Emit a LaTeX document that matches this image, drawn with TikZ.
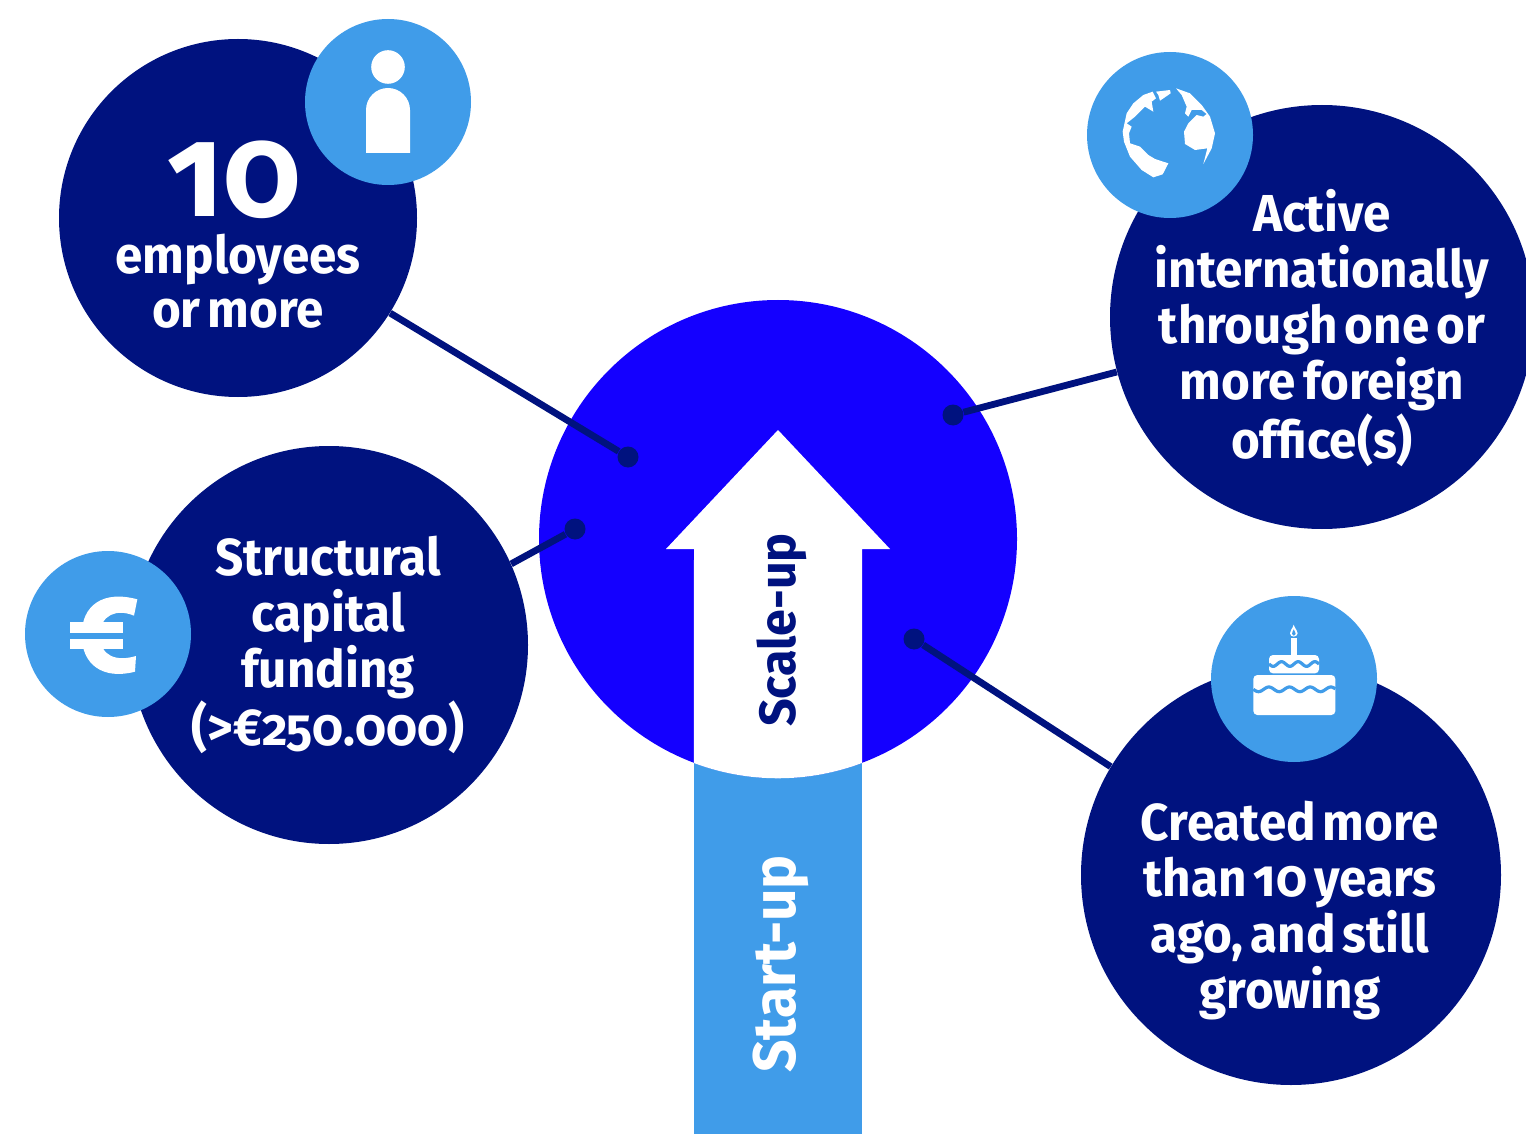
\documentclass[tikz,border=0pt]{standalone}
\usepackage{fontspec}
\setmainfont{Fira Sans}[Numbers=OldStyle,FakeStretch=0.95,WordSpace=0.6]
\usetikzlibrary{positioning}
\definecolor{navy}{HTML}{00127F}
\definecolor{vivid}{HTML}{1400FF}
\definecolor{sky}{HTML}{409CE9}
\tikzset{
  blob/.style={circle,inner sep=0pt,fill=navy},
  badge/.style={circle,inner sep=0pt,fill=sky,minimum size=83pt},
  pin/.style={circle,inner sep=0pt,fill=navy,minimum size=10.5pt},
  link/.style={navy,line width=3.4pt},
  blurb/.style={white,align=center,inner sep=0pt,font=\fontsize{26}{28}\bfseries\selectfont},
  zoomed/.style={x=0.16667pt,y=-0.16667pt},
}
\begin{document}
\begin{tikzpicture}[x=0.5pt,y=-0.5pt]
\useasboundingbox (0,0) rectangle (1526,1134);
%%
\fill [sky] (694,620) rectangle (862,1134);
\node (node_main) at (778,539) [circle,inner sep=0pt,fill=vivid,minimum size=239pt] {};
\fill [white] (778,430) -- (890,549) -- (862,549) -- (862,763)
  arc [start angle=-69.4,end angle=-110.6,radius=119.5pt] -- (694,549) -- (666,549) -- cycle;
\node (node_scale) at (782,630) [rotate=90,navy,inner sep=0pt,font=\fontsize{25.5}{28}\bfseries\selectfont] {Scale-up};
\node (node_start) at (781,964) [rotate=90,white,inner sep=0pt,font=\fontsize{30}{32}\bfseries\selectfont] {Start-up};
%
\node (node_staff) at (238,218) [blob,minimum size=179pt] {};
\node (node_capital) at (329,645) [blob,minimum size=199pt] {};
\node (node_abroad) at (1322,317) [blob,minimum size=212pt] {};
\node (node_age) at (1291,875) [blob,minimum size=210pt] {};
\node (pin_staff) at (628,457) [pin] {};
\node (pin_capital) at (575,529) [pin] {};
\node (pin_abroad) at (953,415) [pin] {};
\node (pin_age) at (914,639) [pin] {};
\draw [link] (pin_staff) -- (node_staff.-32);
\draw [link] (pin_capital) -- (node_capital.24);
\draw [link] (pin_abroad) -- (node_abroad.195);
\draw [link] (pin_age) -- (node_age.149);
%
\node (badge_staff) at (388,102) [badge] {};
\node (badge_abroad) at (1170,135) [badge] {};
\node (badge_capital) at (108,634) [badge] {};
\node (badge_age) at (1294,679) [badge] {};
%
\node (text_ten) at (234,180) [white,inner sep=0pt,font=\fontsize{65}{70}\bfseries\selectfont] {10};
\node (text_staff) at (238,281) [blurb] {employees\\[-1pt]or more};
\node (text_capital) at (328,645) [blurb] {Structural\\capital\\funding\\(>€250.000)};
\node (text_abroad) at (1322,328) [blurb] {Active\\internationally\\through one or\\more foreign\\office(s)};
\node (text_age) at (1290,911) [blurb] {Created more\\than 10 years\\ago, and still\\growing};
%
% person
\fill [white] (388,67) circle [radius=8.4pt];
\fill [white] (366,153) -- (366,110) arc [start angle=180,end angle=0,radius=11pt] -- (410,153) -- cycle;
% globe
\begin{scope}[shift={(1080,45)},zoomed]
\fill [white] (218,140) -- (190,150) -- (160,175) -- (140,205) -- (128,260) -- (132,290) -- (150,335) -- (185,375) -- (220,397) -- (248,388) -- (265,355) -- (225,342) -- (205,330) -- (180,305) -- (150,295) -- (147,265) -- (155,245) -- (140,235) -- (165,215) -- (195,185) -- (220,200) -- (215,170) -- (228,160) -- cycle;
\fill [white] (228,140) -- (270,135) -- (272,145) -- (240,167) -- (235,150) -- cycle;
\fill [white] (288,130) -- (330,145) -- (365,180) -- (390,215) -- (405,265) -- (395,310) -- (370,357) -- (382,310) -- (345,315) -- (315,297) -- (312,260) -- (325,235) -- (350,210) -- (370,215) -- (380,207) -- (365,195) -- (335,195) -- (325,215) -- (315,205) -- (320,185) -- (305,150) -- cycle;
\end{scope}
% euro
\begin{scope}[shift={(20,545)},zoomed]
\fill [white] (352,163) .. controls (250,135) and (185,180) .. (185,270) .. controls (185,360) and (250,405) .. (345,380) -- (348,333) .. controls (290,350) and (240,335) .. (240,270) .. controls (240,210) and (290,190) .. (342,212) -- cycle;
\fill [sky] (150,263) rectangle (320,283);
\fill [white] (150,232) rectangle (310,263);
\fill [white] (150,283) rectangle (310,313);
\end{scope}
% cake
\begin{scope}[shift={(1205,590)},zoomed]
\fill [white,rounded corners=2pt] (145,375) -- (145,255) -- (391,255) -- (391,375) -- cycle;
\fill [white,rounded corners=2pt] (192,250) -- (192,195) -- (342,195) -- (342,250) -- cycle;
\fill [white] (258,195) rectangle (276,145);
\fill [white] (266,104) .. controls (262,118) and (254,122) .. (255,130) .. controls (256,143) and (276,143) .. (278,130) .. controls (279,122) and (270,118) .. (266,104) -- cycle;
\fill [sky] (266,118) .. controls (264,125) and (260,128) .. (261,132) .. controls (262,139) and (271,139) .. (272,132) .. controls (273,128) and (268,125) .. (266,118) -- cycle;
\draw [sky,line width=1.6pt] plot [domain=145:391,samples=80] (\x,{298+7*sin((\x-145)/62*360)});
\draw [sky,line width=1.6pt] plot [domain=192:342,samples=60] (\x,{222+7*sin((\x-192)/50*360)});
\end{scope}
%
\end{tikzpicture}
\end{document}
